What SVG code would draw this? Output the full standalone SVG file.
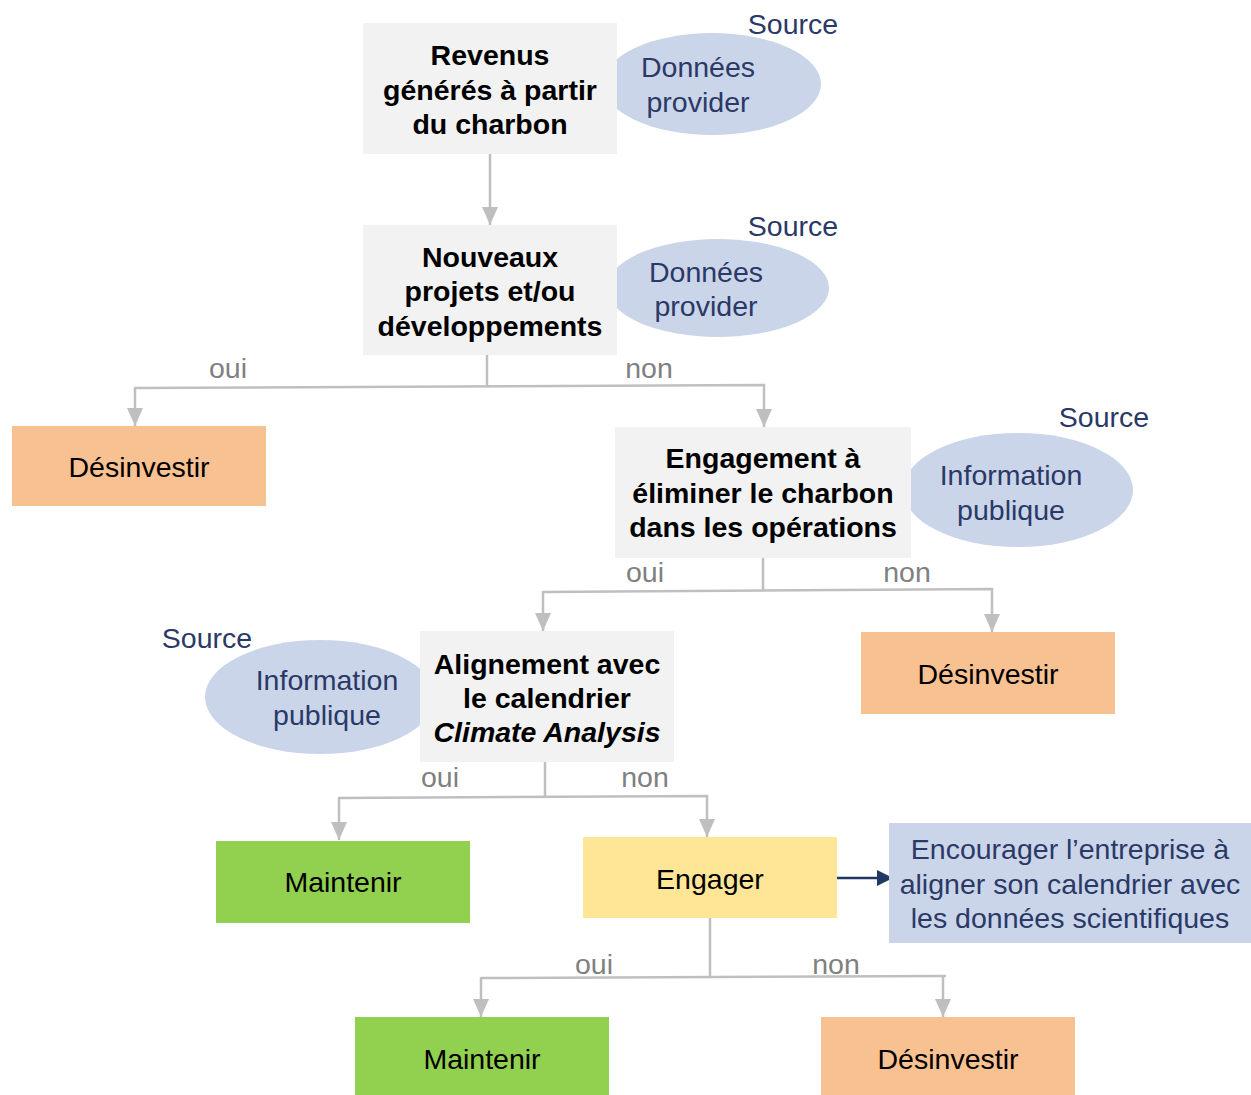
<svg xmlns="http://www.w3.org/2000/svg" width="1251" height="1095" viewBox="0 0 1251 1095">
<style>
text{font-family:"Liberation Sans",Arial,sans-serif;font-size:28.5px;text-anchor:middle}
.q{fill:#f2f2f2}
.qt{font-weight:bold;fill:#000}
.src{fill:#cad5e9}
.st{fill:#2b3966}
.lbl{fill:#808080}
.dis{fill:#f8c191}
.mnt{fill:#92d050}
.eng{fill:#ffe697}
.ot{fill:#000}
.con{stroke:#bfbfbf;stroke-width:2.5;fill:none}
</style>
<defs>
<marker id="ag" viewBox="0 0 16 18" refX="8" refY="18" markerWidth="16" markerHeight="18" markerUnits="userSpaceOnUse" orient="0">
<path d="M0,0 L16,0 L8,18 z" fill="#bfbfbf"/>
</marker>
<marker id="an" viewBox="0 0 16 16" refX="16" refY="8" markerWidth="16" markerHeight="16" markerUnits="userSpaceOnUse" orient="auto">
<path d="M0,0 L16,8 L0,16 z" fill="#203864"/>
</marker>
</defs>
<g id="connectors">
<path class="con" d="M490,154 V225" marker-end="url(#ag)"/>
<path class="con" d="M487,355 V387"/>
<path class="con" d="M135,388 L764,385 V427" marker-end="url(#ag)"/>
<path class="con" d="M135,387 V426" marker-end="url(#ag)"/>
<path class="con" d="M763,558 V591"/>
<path class="con" d="M543,592 L992,589 V632" marker-end="url(#ag)"/>
<path class="con" d="M543,591 V631" marker-end="url(#ag)"/>
<path class="con" d="M545,762 V797"/>
<path class="con" d="M339,798 L707,796 V837" marker-end="url(#ag)"/>
<path class="con" d="M339,797 V840" marker-end="url(#ag)"/>
<path class="con" d="M710,918 V977"/>
<path class="con" d="M481,978 L946,976"/>
<path class="con" d="M481,977 V1017" marker-end="url(#ag)"/>
<path class="con" d="M943,976 V1017" marker-end="url(#ag)"/>
<path d="M837,878 H893" stroke="#203864" stroke-width="2.5" fill="none" marker-end="url(#an)"/>
<text class="lbl" x="228" y="378">oui</text>
<text class="lbl" x="649" y="378">non</text>
<text class="lbl" x="645" y="582">oui</text>
<text class="lbl" x="907" y="582">non</text>
<text class="lbl" x="440" y="787">oui</text>
<text class="lbl" x="645" y="787">non</text>
<text class="lbl" x="594" y="974">oui</text>
<text class="lbl" x="836" y="974">non</text>
</g>
<g id="src1">
<ellipse class="src" cx="712" cy="84" rx="109" ry="51"/>
<text class="st" x="698" y="77">Données</text>
<text class="st" x="698" y="112">provider</text>
<text class="st" x="793" y="34">Source</text>
</g>
<g id="q1">
<rect class="q" x="363" y="23" width="254" height="131"/>
<text class="qt" x="490" y="65">Revenus</text>
<text class="qt" x="490" y="100">générés à partir</text>
<text class="qt" x="490" y="134">du charbon</text>
</g>
<g id="src2">
<ellipse class="src" cx="718" cy="288" rx="111" ry="49"/>
<text class="st" x="706" y="282">Données</text>
<text class="st" x="706" y="316">provider</text>
<text class="st" x="793" y="236">Source</text>
</g>
<g id="q2">
<rect class="q" x="363" y="225" width="254" height="130"/>
<text class="qt" x="490" y="267">Nouveaux</text>
<text class="qt" x="490" y="301">projets et/ou</text>
<text class="qt" x="490" y="336">développements</text>
</g>
<g id="d1">
<rect class="dis" x="12" y="426" width="254" height="80"/>
<text class="ot" x="139" y="477">Désinvestir</text>
</g>
<g id="src3">
<ellipse class="src" cx="1018" cy="490" rx="115" ry="57"/>
<text class="st" x="1011" y="485">Information</text>
<text class="st" x="1011" y="520">publique</text>
<text class="st" x="1104" y="427">Source</text>
</g>
<g id="q3">
<rect class="q" x="615" y="427" width="296" height="131"/>
<text class="qt" x="763" y="468">Engagement à</text>
<text class="qt" x="763" y="503">éliminer le charbon</text>
<text class="qt" x="763" y="537">dans les opérations</text>
</g>
<g id="d2">
<rect class="dis" x="861" y="632" width="254" height="82"/>
<text class="ot" x="988" y="684">Désinvestir</text>
</g>
<g id="src4">
<ellipse class="src" cx="320" cy="697" rx="115" ry="57"/>
<text class="st" x="327" y="690">Information</text>
<text class="st" x="327" y="725">publique</text>
<text class="st" x="207" y="648">Source</text>
</g>
<g id="q4">
<rect class="q" x="420" y="631" width="254" height="131"/>
<text class="qt" x="547" y="674">Alignement avec</text>
<text class="qt" x="547" y="708">le calendrier</text>
<text class="qt" x="547" y="742" font-style="italic">Climate Analysis</text>
</g>
<g id="m1">
<rect class="mnt" x="216" y="841" width="254" height="82"/>
<text class="ot" x="343" y="892">Maintenir</text>
</g>
<g id="e1">
<rect class="eng" x="583" y="837" width="254" height="81"/>
<text class="ot" x="710" y="889">Engager</text>
</g>
<g id="enc">
<rect class="src" x="889" y="823" width="362" height="120"/>
<text class="st" x="1070" y="859">Encourager l’entreprise à</text>
<text class="st" x="1070" y="894">aligner son calendrier avec</text>
<text class="st" x="1070" y="928">les données scientifiques</text>
</g>
<g id="m2">
<rect class="mnt" x="355" y="1017" width="254" height="78"/>
<text class="ot" x="482" y="1069">Maintenir</text>
</g>
<g id="d3">
<rect class="dis" x="821" y="1017" width="254" height="78"/>
<text class="ot" x="948" y="1069">Désinvestir</text>
</g>
</svg>
